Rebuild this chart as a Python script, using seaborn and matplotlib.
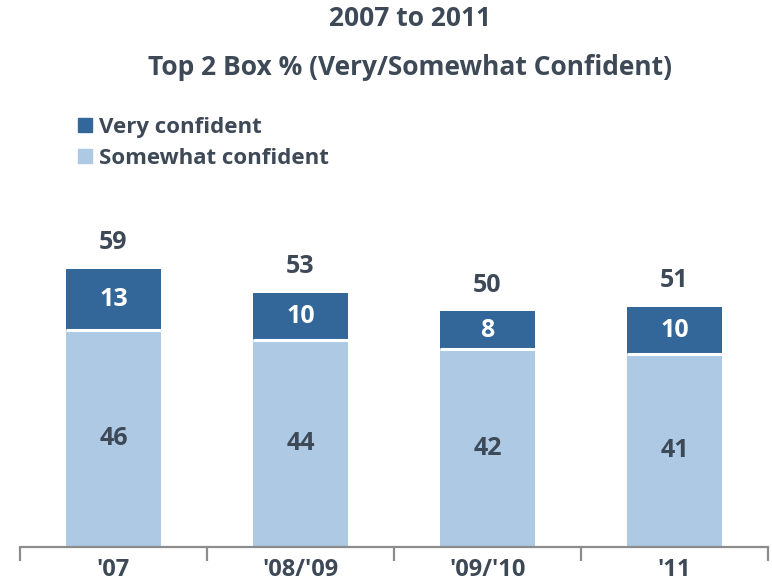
import matplotlib
matplotlib.use("Agg")
import matplotlib.pyplot as plt
from matplotlib.patches import Patch
import pandas as pd
import seaborn as sns

# data
periods = ["'07", "'08/'09", "'09/'10", "'11"]
somewhat_confident = [46, 44, 42, 41]
very_confident = [13, 10, 8, 10]
top2_totals = [59, 53, 50, 51]

dark_blue = "#336699"
light_blue = "#ADC9E4"
text_col = "#3E4957"

sns.set_theme(style="white")
plt.rcParams["font.family"] = ["Open Sans", "DejaVu Sans"]

df = pd.DataFrame({"Period": periods,
                   "Somewhat": somewhat_confident,
                   "Very": very_confident})

fig = plt.figure(figsize=(7.72, 5.87), dpi=100)
ax = fig.add_axes([0.0259, 0.068, 0.9689, 0.562])

sns.barplot(data=df, x="Period", y="Somewhat", color=light_blue, width=0.51,
            saturation=1, errorbar=None, ax=ax, linewidth=0)
sns.barplot(data=df, x="Period", y="Very", bottom=df["Somewhat"], color=dark_blue,
            width=0.51, saturation=1, errorbar=None, ax=ax, linewidth=0)

# white separator between segments
for bar in ax.containers[1]:
    ax.plot([bar.get_x(), bar.get_x() + bar.get_width()],
            [bar.get_y(), bar.get_y()], color="white", lw=2.2, solid_capstyle="butt")

lbl_font = {"fontsize": 18, "fontweight": "bold"}
ax.bar_label(ax.containers[0], label_type="center", color=text_col, **lbl_font)
ax.bar_label(ax.containers[1], label_type="center", color="white", **lbl_font)
ax.bar_label(ax.containers[1], labels=[str(t) for t in top2_totals], padding=10,
             color=text_col, **lbl_font)

ax.set_xlim(-0.5, 3.5)
ax.set_ylim(0, 70)
ax.set_xlabel("")
ax.set_ylabel("")
ax.set_yticks([])
for s in ["top", "left", "right"]:
    ax.spines[s].set_visible(False)
ax.spines["bottom"].set_color("#8C8C8C")
ax.spines["bottom"].set_linewidth(1.6)

ax.set_xticks(range(len(periods)))
ax.set_xticklabels(periods, fontsize=17, fontweight="bold", color=text_col)
ax.tick_params(axis="x", which="major", length=0, pad=8)
ax.set_xticks([i - 0.5 for i in range(len(periods) + 1)], minor=True)
ax.tick_params(axis="x", which="minor", bottom=True, length=10, width=1.6,
               color="#8C8C8C", direction="out")

fig.text(0.531, 0.969, "2007 to 2011", ha="center", va="center",
         fontsize=19, fontweight="bold", color=text_col)
fig.text(0.531, 0.885, "Top 2 Box % (Very/Somewhat Confident)", ha="center",
         va="center", fontsize=19, fontweight="bold", color=text_col)

handles = [Patch(color=dark_blue, label="Very confident"),
           Patch(color=light_blue, label="Somewhat confident")]
fig.legend(handles=handles, loc="upper left", bbox_to_anchor=(0.090, 0.816),
           frameon=False, handlelength=0.6, handleheight=0.6,
           handletextpad=0.35, labelspacing=0.45, borderaxespad=0,
           prop={"weight": "bold", "size": 16}, labelcolor=text_col)

plt.savefig("out.png", dpi=100)
